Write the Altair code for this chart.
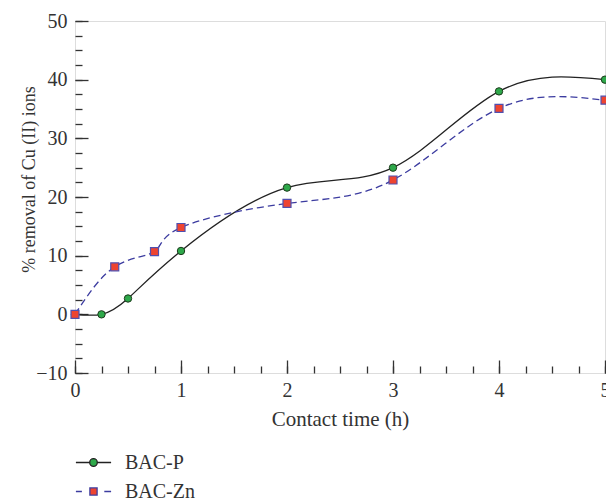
import altair as alt
import pandas as pd

# ---- data ----
series_names = ["BAC-P", "BAC-Zn"]
time_p = [0, 0.25, 0.5, 1, 2, 3, 4, 5]
removal_p = [0, 0, 2.7, 10.8, 21.6, 25.0, 38.0, 40.0]
time_zn = [0, 0.375, 0.75, 1, 2, 3, 4, 5]
removal_zn = [0, 8.1, 10.7, 14.8, 18.9, 22.9, 35.1, 36.5]

x_major = [0, 1, 2, 3, 4, 5]
x_minor = [0, 0.25, 0.5, 0.75, 1, 1.25, 1.5, 1.75, 2, 2.25, 2.5, 2.75, 3,
           3.25, 3.5, 3.75, 4, 4.25, 4.5, 4.75, 5]
y_major = [-10, 0, 10, 20, 30, 40, 50]
y_minor = [-10, -7.5, -5, -2.5, 0, 2.5, 5, 7.5, 10, 12.5, 15, 17.5, 20, 22.5,
           25, 27.5, 30, 32.5, 35, 37.5, 40, 42.5, 45, 47.5, 50]

df = pd.DataFrame({
    "time": time_p + time_zn,
    "removal": removal_p + removal_zn,
    "series": [series_names[0]] * len(time_p) + [series_names[1]] * len(time_zn),
})

FONT = "Liberation Serif"
TXT = "#333333"
FRAME = "#333333"
GREEN = "#2ea84a"
RED = "#ee4430"
NAVY = "#3c3ca0"
BLACK = "#222222"

xs = alt.Scale(domain=[0, 5], nice=False, zero=False)
ys = alt.Scale(domain=[-10, 50], nice=False, zero=False)

def tick_axis(orient, values, size):
    # inward ticks: negative tick length given as an expression
    return alt.Axis(orient=orient, values=values, tickSize=alt.ExprRef(f"-{size}"),
                    labels=False, domain=False, grid=False, title=None,
                    tickColor=FRAME, tickWidth=1.3)

x_label_axis = alt.Axis(orient="bottom", values=x_major, ticks=False, tickSize=0,
                        domain=False, grid=False, labelFont=FONT, labelFontSize=20,
                        labelColor=TXT, labelPadding=7, labelOverlap=False,
                        labelBound=False, labelFlush=False,
                        title="Contact time (h)", titleFont=FONT, titleFontSize=21,
                        titleFontWeight="normal", titleColor=TXT,
                        titleBaseline="alphabetic", titleY=52)
y_label_axis = alt.Axis(orient="left", values=y_major, ticks=False, tickSize=0,
                        domain=False, grid=False, labelFont=FONT, labelFontSize=20,
                        labelColor=TXT, labelPadding=8, labelOverlap=False,
                        labelBound=False, labelFlush=False,
                        title="% removal of Cu (II) ions", titleFont=FONT,
                        titleFontSize=18, titleFontWeight="normal", titleColor=TXT,
                        titleAngle=270, titleBaseline="alphabetic", titleAlign="center",
                        titleX=-41, titleY=158)

base = alt.Chart(df)

line_p = base.transform_filter(alt.datum.series == series_names[0]).mark_line(
    interpolate="natural", color=BLACK, strokeWidth=1.3
).encode(
    x=alt.X("time:Q", scale=xs, axis=tick_axis("bottom", x_major, 13)),
    y=alt.Y("removal:Q", scale=ys, axis=tick_axis("left", y_major, 13)),
)

line_zn = base.transform_filter(alt.datum.series == series_names[1]).mark_line(
    interpolate="natural", color=NAVY, strokeWidth=1.3, strokeDash=[7, 4]
).encode(
    x=alt.X("time:Q", scale=xs, axis=tick_axis("bottom", x_minor, 7)),
    y=alt.Y("removal:Q", scale=ys, axis=tick_axis("left", y_minor, 7)),
)

pts_p = base.transform_filter(alt.datum.series == series_names[0]).mark_point(
    shape="circle", filled=True, fill=GREEN, stroke="#1c3a1c", strokeWidth=1,
    size=55, opacity=1
).encode(
    x=alt.X("time:Q", scale=xs, axis=x_label_axis),
    y=alt.Y("removal:Q", scale=ys, axis=y_label_axis),
)

pts_zn = base.transform_filter(alt.datum.series == series_names[1]).mark_point(
    shape="square", filled=True, fill=RED, stroke="#5050b0", strokeWidth=1.2,
    size=64, opacity=1
).encode(
    x=alt.X("time:Q", scale=xs, axis=None),
    y=alt.Y("removal:Q", scale=ys, axis=None),
)

# legend-only layer (no marks drawn): symbols combine line + marker
path_p = ("M-4.4,0H-0.95M0.95,0H4.4"
          "M0.95,0A0.95,0.95 0 1,1 -0.95,0A0.95,0.95 0 1,1 0.95,0Z")
path_zn = "M-4.4,0H-2.9M2.7,0H4.4M-0.9,-0.9H0.9V0.9H-0.9Z"

leg = alt.Legend(orient="none", legendX=8.5, legendY=431.5, title=None,
                 padding=0, labelFont=FONT, labelFontSize=20, labelColor=TXT,
                 labelOffset=21.5, rowPadding=9, symbolSize=64,
                 symbolStrokeWidth=1.3, direction="vertical")

legend_layer = base.transform_filter("false").mark_point(filled=True, opacity=1).encode(
    shape=alt.Shape("series:N", scale=alt.Scale(domain=series_names, range=[path_p, path_zn]), legend=leg),
    fill=alt.Fill("series:N", scale=alt.Scale(domain=series_names, range=[GREEN, RED]), legend=leg),
    stroke=alt.Stroke("series:N", scale=alt.Scale(domain=series_names, range=[BLACK, NAVY]), legend=leg),
)

chart = alt.layer(line_p, line_zn, pts_p, pts_zn, legend_layer).resolve_axis(
    x="independent", y="independent"
).properties(
    width=530, height=352,
    autosize=alt.AutoSizeParams(type="none"),
    padding={"left": 75, "top": 21, "right": 1, "bottom": 126},
).configure_view(stroke=FRAME, strokeWidth=1.5).configure(background="white")

chart.save("out.html", embed_options={"renderer": "svg", "actions": False})
